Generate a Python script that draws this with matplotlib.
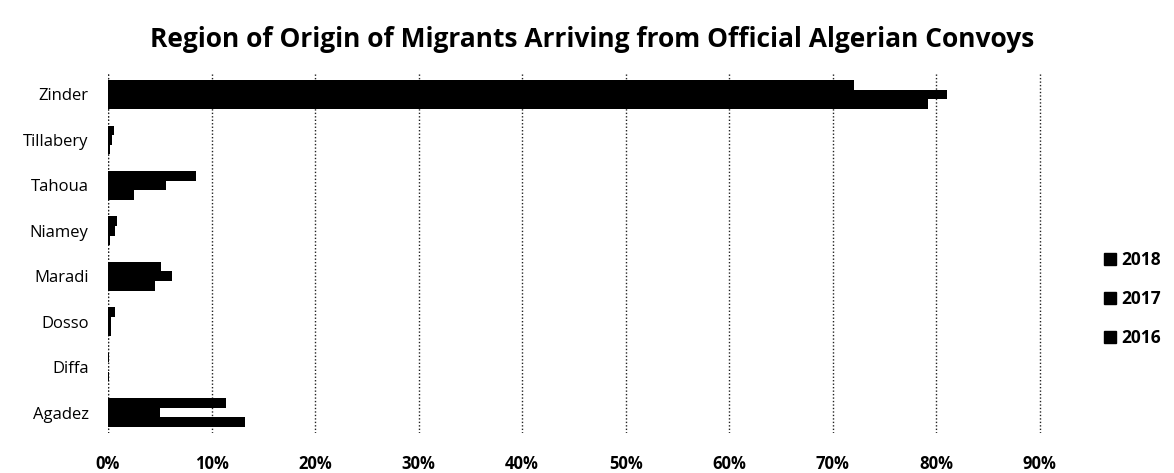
import matplotlib
matplotlib.use("Agg")
import matplotlib.pyplot as plt
import numpy as np
from matplotlib.patches import Patch

categories = ["Agadez", "Diffa", "Dosso", "Maradi", "Niamey", "Tahoua", "Tillabery", "Zinder"]
years = ["2018", "2017", "2016"]
v2018 = [11.4, 0.1, 0.7, 5.1, 0.9, 8.5, 0.6, 72.0]
v2017 = [5.0, 0.0, 0.3, 6.2, 0.7, 5.6, 0.4, 81.0]
v2016 = [13.2, 0.1, 0.3, 4.5, 0.2, 2.5, 0.2, 79.2]
xticks = [0, 10, 20, 30, 40, 50, 60, 70, 80, 90]

plt.rcParams['font.family'] = ['Open Sans', 'DejaVu Sans']

fig = plt.figure(figsize=(11.74, 4.73), dpi=100)
ax = fig.add_axes([108/1174, 1-433/473, (1043-108)/1174, (433-73)/473])

y = np.arange(len(categories))
h = 0.21
ax.barh(y + h, v2018, height=h, color='black', label=years[0])
ax.barh(y, v2017, height=h, color='black', label=years[1])
ax.barh(y - h, v2016, height=h, color='black', label=years[2])

ax.set_xlim(0, 90.3)
ax.set_ylim(-0.45, 7.47)
ax.set_xticks(xticks)
ax.set_xticklabels([f"{t}%" for t in xticks], fontsize=12, fontweight='bold')
ax.set_yticks(y)
ax.set_yticklabels(categories, fontsize=12)
ax.tick_params(axis='x', length=0, pad=16)
ax.tick_params(axis='y', length=0, pad=14)
for s in ax.spines.values():
    s.set_visible(False)
ax.set_axisbelow(True)
ax.grid(axis='x', color='#222222', linestyle=(0, (1, 1.5)), linewidth=1.0)
ax.axvline(0, color='#222222', linestyle=(0, (1, 1.5)), linewidth=1.0, zorder=0)

fig.suptitle("Region of Origin of Migrants Arriving from Official Algerian Convoys",
             x=0.504, y=0.945, fontsize=19, fontweight='bold')

handles = [Patch(color='black', label=yr) for yr in years]
fig.legend(handles=handles, loc='center left', bbox_to_anchor=(1088/1174, 1-299/473),
           frameon=False, handlelength=0.7, handleheight=0.7,
           handletextpad=0.3, labelspacing=1.2, prop={'weight': 'bold', 'size': 12.5})

fig.savefig("out.png", dpi=100)
